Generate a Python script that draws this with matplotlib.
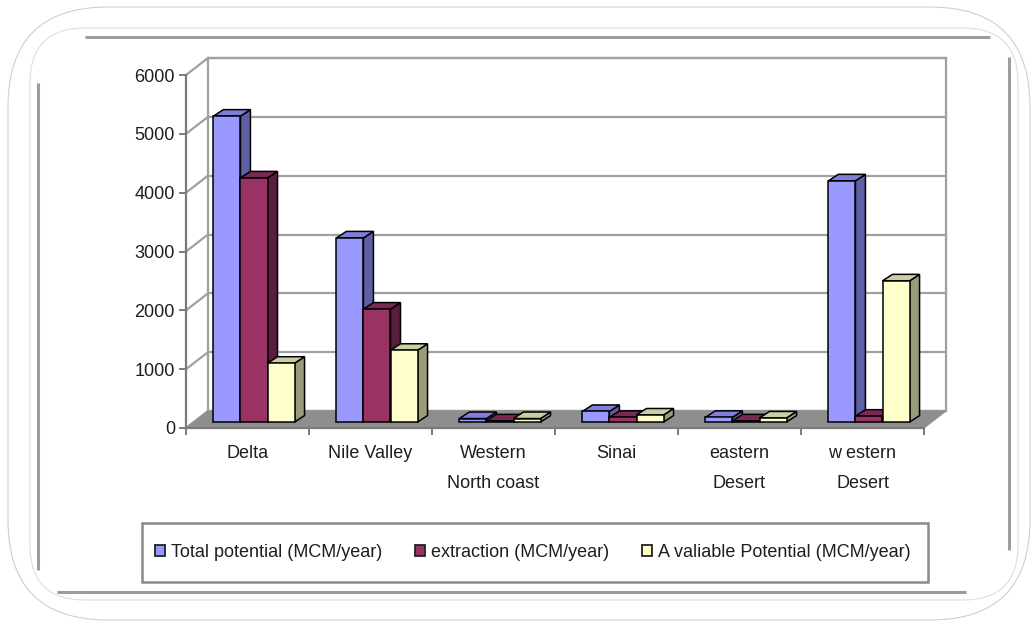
import matplotlib
matplotlib.use("Agg")
import matplotlib.pyplot as plt
from matplotlib.patches import Polygon, Rectangle, FancyBboxPatch, Patch

plt.rcParams["font.family"] = ["Liberation Sans", "DejaVu Sans"]

# ---- data (MCM/year) ----
regions = ["Delta", "Nile Valley", "Western\nNorth coast", "Sinai", "eastern\nDesert", "w estern\nDesert"]
series_names = ["Total potential (MCM/year)", "extraction (MCM/year)", "A valiable Potential (MCM/year)"]
total_potential = [5200, 3130, 60, 180, 80, 4100]
extraction = [4150, 1920, 20, 80, 20, 100]
available_potential = [1000, 1220, 60, 120, 70, 2400]
y_ticks = [0, 1000, 2000, 3000, 4000, 5000, 6000]

series = [total_potential, extraction, available_potential]
# front, side, top shades for each series
shades = [
    ("#9999FF", "#5F5FA6", "#7F7FDB"),
    ("#993366", "#5A1E3D", "#7A2952"),
    ("#FFFFCC", "#9A9A7C", "#CDCDA2"),
]

W, H = 1033, 624
fig = plt.figure(figsize=(W / 100, H / 100), dpi=100)
fig.patch.set_facecolor("white")

# ---- decorative frame (figure pixel coordinates) ----
frame = fig.add_axes([0, 0, 1, 1], zorder=-5)
frame.set_xlim(0, W)
frame.set_ylim(H, 0)
frame.axis("off")
frame.add_patch(FancyBboxPatch((8 + 100, 7 + 100), 1022 - 200, 613 - 200,
                               boxstyle="round,pad=100", fc="none", ec="#cfcfcf", lw=0.8))
frame.add_patch(FancyBboxPatch((30 + 55, 28 + 55), 988 - 110, 572 - 110,
                               boxstyle="round,pad=55", fc="none", ec="#dedede", lw=0.8))
for xs, ys in [((85, 990), (37, 37)), ((38, 38), (83, 570)),
               ((57, 966), (592, 592)), ((1009, 1009), (57, 550))]:
    frame.plot(xs, ys, color="#9c9c9c", lw=2.2, solid_capstyle="butt")

# ---- plot axes: data coordinates map onto the front plane ----
left_px, right_px, bottom_px, top_px = 186, 924, 428, 75
ax = fig.add_axes([left_px / W, 1 - bottom_px / H,
                   (right_px - left_px) / W, (bottom_px - top_px) / H])
n = len(regions)
ymax = y_ticks[-1]
ax.set_xlim(0, n)
ax.set_ylim(0, ymax)
ax.patch.set_alpha(0)

px_x = (right_px - left_px) / n          # pixels per category
px_y = (bottom_px - top_px) / ymax       # pixels per value unit
# depth of the box (back wall offset) in data units
dxw = 22 / px_x
dyw = 17 / px_y
# bars: position in depth, and their own depth
f0 = 0.35
ddx = 10 / px_x
ddy = 6.5 / px_y
bar_w = 0.22
margin = 0.16

grid_c = "#a0a0a0"
# left wall and back wall
ax.add_patch(Polygon([(0, 0), (dxw, dyw), (dxw, ymax + dyw), (0, ymax)],
                     closed=True, fc="white", ec="none", clip_on=False, zorder=0))
ax.add_patch(Rectangle((dxw, dyw), n, ymax, fc="white", ec=grid_c, lw=1.6,
                       clip_on=False, zorder=0.5))
for v in y_ticks:
    ax.plot([0, dxw], [v, v + dyw], color=grid_c, lw=1.6, clip_on=False, zorder=0.6)
    ax.plot([dxw, n + dxw], [v + dyw, v + dyw], color=grid_c, lw=1.6, clip_on=False, zorder=0.6)
# floor
ax.add_patch(Polygon([(0, 0), (n, 0), (n + dxw, dyw), (dxw, dyw)], closed=True,
                     fc="#8e8e8e", ec="#8e8e8e", lw=0.8, clip_on=False, zorder=1))

# bars with front, side and top faces
z = 2
for i in range(n):
    for j, vals in enumerate(series):
        v = vals[i]
        front, side, top = shades[j]
        x0 = i + f0 * dxw + margin + j * bar_w
        b = f0 * dyw
        ax.bar(x0, v, width=bar_w, bottom=b, align="edge", color=front,
               edgecolor="black", linewidth=1.1, zorder=z + 0.2)
        ax.add_patch(Polygon([(x0 + bar_w, b), (x0 + bar_w, b + v),
                              (x0 + bar_w + ddx, b + v + ddy), (x0 + bar_w + ddx, b + ddy)],
                             closed=True, fc=side, ec="black", lw=1.1, zorder=z, clip_on=False))
        ax.add_patch(Polygon([(x0, b + v), (x0 + bar_w, b + v),
                              (x0 + bar_w + ddx, b + v + ddy), (x0 + ddx, b + v + ddy)],
                             closed=True, fc=top, ec="black", lw=1.1, zorder=z + 0.1, clip_on=False))
        z += 1

# axes lines, ticks and labels
for s in ["top", "right"]:
    ax.spines[s].set_visible(False)
for s in ["left", "bottom"]:
    ax.spines[s].set_color("#7a7a7a")
    ax.spines[s].set_linewidth(1.6)
    ax.spines[s].set_zorder(50)
ax.set_yticks(y_ticks)
ax.set_yticklabels([str(t) for t in y_ticks])
ax.tick_params(axis="y", direction="out", length=5, width=1.4, color="#7a7a7a",
               labelsize=13, labelcolor="#1e1e1e", pad=3)
ax.set_xticks(range(n + 1))
ax.set_xticklabels([])
ax.set_xticks([i + 0.5 for i in range(n)], minor=True)
ax.set_xticklabels(regions, minor=True, linespacing=2.0)
ax.tick_params(axis="x", which="major", direction="out", length=5, width=1.4, color="#7a7a7a")
ax.tick_params(axis="x", which="minor", length=0, labelsize=13, labelcolor="#1e1e1e", pad=12)

# legend
lx0, ly0, lx1, ly1 = 142, 523, 928, 582
frame.add_patch(Rectangle((lx0, ly0), lx1 - lx0, ly1 - ly0, fc="white", ec="#8a8a8a", lw=1.8))
handles = [Patch(facecolor=shades[k][0], edgecolor="#222222", linewidth=1.3) for k in range(3)]
fig.legend(handles, series_names, loc="center",
           bbox_to_anchor=((lx0 + lx1) / 2 / W - 2 / W, 1 - (ly0 + ly1) / 2 / H),
           ncol=3, frameon=False, fontsize=13, handlelength=0.55, handleheight=0.55,
           handletextpad=0.35, columnspacing=1.8, labelcolor="#1e1e1e")

fig.savefig("out.png", dpi=100)
